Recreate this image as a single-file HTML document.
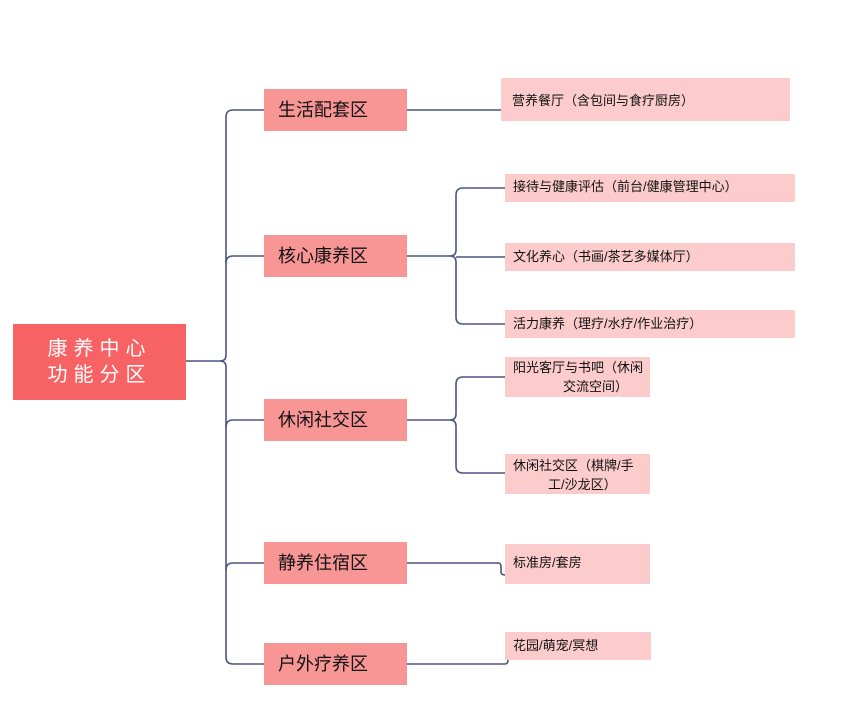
<!DOCTYPE html>
<html><head><meta charset="utf-8"><style>
body{margin:0;width:867px;height:720px;background:#fff;position:relative;overflow:hidden;font-family:"Liberation Sans","Noto Sans CJK SC",sans-serif;}
.b{position:absolute;box-sizing:border-box;color:#111;}
.r{background:#f76264;color:#fff;font-size:20px;letter-spacing:6px;line-height:26px;text-align:center;padding-top:12px;}
.l1{background:#f89696;font-size:18px;line-height:42px;padding-left:14px;}
.l2{background:#fccbcc;font-size:13px;padding-left:8px;}
svg{position:absolute;left:0;top:0}
</style></head><body>
<svg width="867" height="720"><g fill="none" stroke="#4a5580" stroke-width="1.6">
<path d="M186 361H220Q226 361 226 355V117Q226 110 233 110H264"/>
<path d="M220 361Q226 361 226 367V657Q226 664 233 664H264"/>
<path d="M226 263Q226 256 233 256H264"/>
<path d="M226 427Q226 420 233 420H264"/>
<path d="M226 570Q226 563 233 563H264"/>
<path d="M407 110H501"/>
<path d="M407 256H450Q456 256 456 250V195Q456 188 463 188H505"/>
<path d="M450 256Q456 256 456 262V317Q456 324 463 324H505"/>
<path d="M456 257H505"/>
<path d="M407 420H450Q456 420 456 414V384Q456 377 463 377H505"/>
<path d="M450 420Q456 420 456 426V466Q456 473 463 473H505"/>
<path d="M407 563H498Q501 563 501 567V572Q501 575 505 575"/>
<path d="M407 664H505Q508 664 508 660V656"/>
</g></svg>
<div class="b r" style="left:13px;top:324px;width:173px;height:76px;">康养中心<br>功能分区</div>
<div class="b l1" style="left:264px;top:89px;width:143px;height:42px;">生活配套区</div>
<div class="b l1" style="left:264px;top:235px;width:143px;height:42px;">核心康养区</div>
<div class="b l1" style="left:264px;top:399px;width:143px;height:42px;">休闲社交区</div>
<div class="b l1" style="left:264px;top:542px;width:143px;height:42px;">静养住宿区</div>
<div class="b l1" style="left:264px;top:643px;width:143px;height:42px;">户外疗养区</div>
<div class="b l2" style="left:501px;top:78px;width:289px;height:43px;line-height:46px;padding-left:11px;">营养餐厅（含包间与食疗厨房）</div>
<div class="b l2" style="left:505px;top:174px;width:290px;height:28px;line-height:26px;">接待与健康评估（前台/健康管理中心）</div>
<div class="b l2" style="left:505px;top:243px;width:290px;height:28px;line-height:27px;">文化养心（书画/茶艺多媒体厅）</div>
<div class="b l2" style="left:505px;top:310px;width:290px;height:28px;line-height:28px;">活力康养（理疗/水疗/作业治疗）</div>
<div class="b l2" style="left:505px;top:357px;width:145px;height:40px;line-height:19px;padding-top:1px;">阳光客厅与书吧（休闲<br><span style="padding-left:50px">交流空间）</span></div>
<div class="b l2" style="left:505px;top:454px;width:145px;height:40px;line-height:19px;padding-top:2px;">休闲社交区（棋牌/手<br><span style="padding-left:35px">工/沙龙区）</span></div>
<div class="b l2" style="left:505px;top:544px;width:145px;height:40px;line-height:38px;">标准房/套房</div>
<div class="b l2" style="left:505px;top:632px;width:146px;height:28px;line-height:28px;">花园/萌宠/冥想</div>
</body></html>
